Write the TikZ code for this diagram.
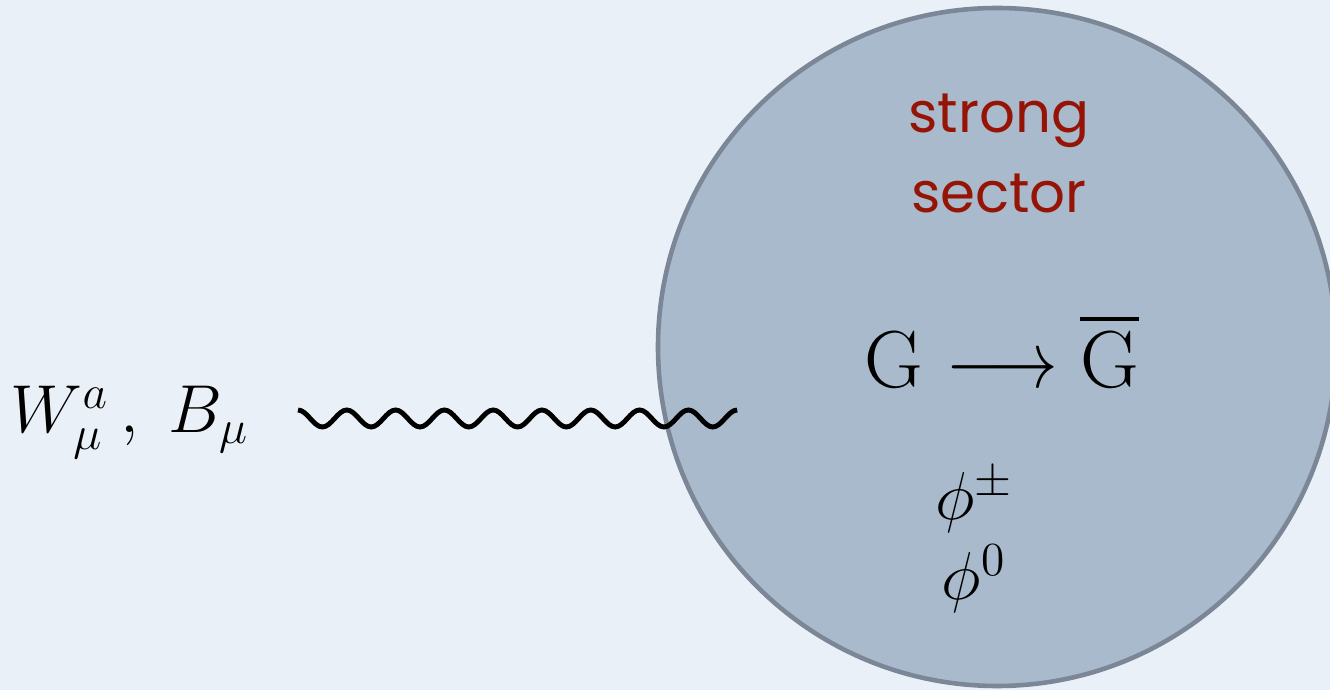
\documentclass[tikz,border=0pt]{standalone}
\usepackage{fix-cm}
\usepackage{amsmath}
\usepackage{fontspec}
\usepackage{tikz}
\newfontfamily\handfont{Poppins}
\definecolor{paperblue}{RGB}{234,240,247}
\definecolor{sectorfill}{RGB}{168,186,203}
\definecolor{sectorline}{RGB}{123,135,150}
\definecolor{sectorred}{RGB}{150,20,6}

\begin{document}
\begin{tikzpicture}[
    mathlabel/.style={font=\fontsize{19.3}{23}\selectfont, inner sep=0pt},
    biglabel/.style={font=\fontsize{23}{28}\selectfont, inner sep=0pt},
    sectorname/.style={font=\handfont\fontsize{16}{22}\selectfont, text=sectorred, inner sep=0pt},
    gauge/.style={line width=1.4pt}
]
    \useasboundingbox (0,0) rectangle (13.3,6.9);
    \fill[paperblue] (0,0) rectangle (13.3,6.9);

    % composite strong sector
    \node[circle, draw=sectorline, line width=1.3pt, fill=sectorfill, minimum size=6.78cm] (sector) at (9.97,3.43) {};
    \node[sectorname, anchor=base] (strong) at (9.99,5.57) {strong};
    \node[sectorname, anchor=base] (sectorlbl) at (9.99,4.77) {sector};
    \node[biglabel, anchor=base] (breaking) at (10.02,3.02)
        {$\mathrm{G}\mathrel{\scalebox{0.86}[1]{$\longrightarrow$}}\overline{\mathrm{G}}$};
    \node[mathlabel, anchor=base] (phipm) at (9.74,1.70) {$\phi^{\pm}$};
    \node[mathlabel, anchor=base] (phizero) at (9.74,0.90) {$\phi^{0}$};

    % elementary gauge fields
    \node[mathlabel, anchor=base west] (gaugelbl) at (0.10,2.57) {$W^a_\mu\,,\; B_\mu$};
    \coordinate (wstart) at (2.98,2.80);
    \draw[gauge] (wstart) \foreach \k in {1,...,9} {cos ++(0.122,-0.085) sin ++(0.122,-0.085) cos ++(0.122,0.085) sin ++(0.122,0.085)};
\end{tikzpicture}
\end{document}
